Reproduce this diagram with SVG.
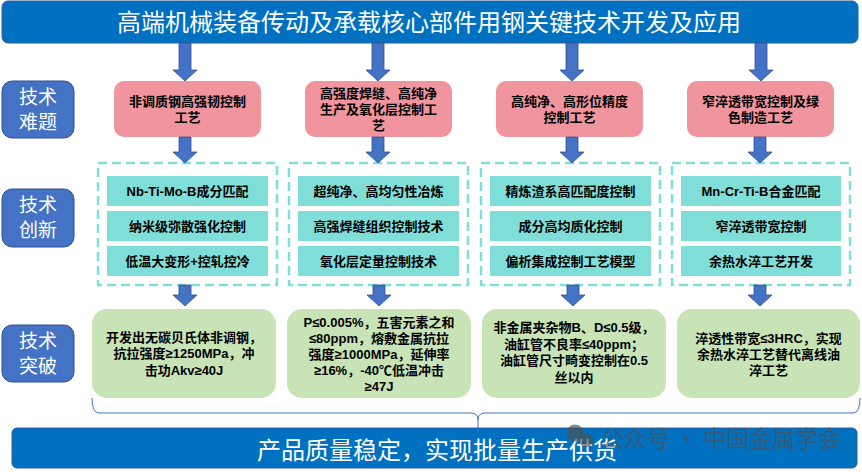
<svg xmlns="http://www.w3.org/2000/svg" width="862" height="472" viewBox="0 0 862 472">
<defs>
<style>
text{font-family:"Liberation Sans","Noto Sans CJK SC",sans-serif;text-anchor:middle;dominant-baseline:central}
.banner{fill:#0070C0;stroke:#2F5F9A;stroke-width:1}
.bt{fill:#fff;font-size:24px}
.lab{fill:#4472C4;stroke:#2F528F;stroke-width:1}
.lt{fill:#fff;font-size:19px}
.pink{fill:#F0959E}
.teal{fill:#7FDED7}
.dash{fill:none;stroke:#7FDED7;stroke-width:2.5;stroke-dasharray:9 5}
.green{fill:#C8E3B6}
.nt{fill:#000;font-size:13px;font-weight:bold}
.arr{fill:#4472C4;stroke:#2F528F;stroke-width:0.8}
.brace{fill:none;stroke:#4472C4;stroke-width:1}
.wm{fill:#505050;opacity:0.65;font-size:23px;font-family:"Noto Sans CJK SC",sans-serif}
</style>
</defs>

<g id="title">
<rect class="banner" x="2" y="1" width="856" height="42" rx="6"/>
<text class="bt" x="429" y="22">高端机械装备传动及承载核心部件用钢关键技术开发及应用</text>
</g>

<g id="label-difficulty">
<rect class="lab" x="2" y="81" width="72" height="57" rx="10"/>
<text class="lt" x="38" y="97">技术</text>
<text class="lt" x="38" y="122">难题</text>
</g>
<g id="label-innovation">
<rect class="lab" x="2" y="189" width="72" height="58" rx="10"/>
<text class="lt" x="38" y="205.5">技术</text>
<text class="lt" x="38" y="230.5">创新</text>
</g>
<g id="label-breakthrough">
<rect class="lab" x="2" y="325" width="72" height="57" rx="10"/>
<text class="lt" x="38" y="341">技术</text>
<text class="lt" x="38" y="366">突破</text>
</g>

<g id="prob1">
<rect class="pink" x="114" y="81" width="147" height="56" rx="10"/>
<text class="nt" x="187.5" y="101">非调质钢高强韧控制</text>
<text class="nt" x="187.5" y="117">工艺</text>
</g>
<g id="prob2">
<rect class="pink" x="305" y="81" width="147" height="56" rx="10"/>
<text class="nt" x="378.5" y="93">高强度焊缝、高纯净</text>
<text class="nt" x="378.5" y="109">生产及氧化层控制工</text>
<text class="nt" x="378.5" y="125">艺</text>
</g>
<g id="prob3">
<rect class="pink" x="496" y="81" width="147" height="56" rx="10"/>
<text class="nt" x="569.5" y="101">高纯净、高形位精度</text>
<text class="nt" x="569.5" y="117">控制工艺</text>
</g>
<g id="prob4">
<rect class="pink" x="687" y="81" width="147" height="56" rx="10"/>
<text class="nt" x="760.5" y="101">窄淬透带宽控制及绿</text>
<text class="nt" x="760.5" y="117">色制造工艺</text>
</g>

<g id="innov1">
<rect class="dash" x="98" y="163" width="179" height="122"/>
<rect class="teal" x="107" y="176" width="161" height="30"/>
<rect class="teal" x="107" y="211" width="161" height="30"/>
<rect class="teal" x="107" y="246" width="161" height="30"/>
<text class="nt" x="187.5" y="191">Nb-Ti-Mo-B成分匹配</text>
<text class="nt" x="187.5" y="226">纳米级弥散强化控制</text>
<text class="nt" x="187.5" y="261">低温大变形+控轧控冷</text>
</g>
<g id="innov2">
<rect class="dash" x="289" y="163" width="179" height="122"/>
<rect class="teal" x="298" y="176" width="161" height="30"/>
<rect class="teal" x="298" y="211" width="161" height="30"/>
<rect class="teal" x="298" y="246" width="161" height="30"/>
<text class="nt" x="378.5" y="191">超纯净、高均匀性冶炼</text>
<text class="nt" x="378.5" y="226">高强焊缝组织控制技术</text>
<text class="nt" x="378.5" y="261">氧化层定量控制技术</text>
</g>
<g id="innov3">
<rect class="dash" x="481" y="163" width="179" height="122"/>
<rect class="teal" x="490" y="176" width="161" height="30"/>
<rect class="teal" x="490" y="211" width="161" height="30"/>
<rect class="teal" x="490" y="246" width="161" height="30"/>
<text class="nt" x="570.5" y="191">精炼渣系高匹配度控制</text>
<text class="nt" x="570.5" y="226">成分高均质化控制</text>
<text class="nt" x="570.5" y="261">偏析集成控制工艺模型</text>
</g>
<g id="innov4">
<rect class="dash" x="672" y="163" width="178" height="122"/>
<rect class="teal" x="681" y="176" width="160" height="30"/>
<rect class="teal" x="681" y="211" width="160" height="30"/>
<rect class="teal" x="681" y="246" width="160" height="30"/>
<text class="nt" x="761" y="191">Mn-Cr-Ti-B合金匹配</text>
<text class="nt" x="761" y="226">窄淬透带宽控制</text>
<text class="nt" x="761" y="261">余热水淬工艺开发</text>
</g>

<g id="result1">
<rect class="green" x="92" y="309" width="184" height="89" rx="15"/>
<text class="nt" x="184" y="337">开发出无碳贝氏体非调钢，</text>
<text class="nt" x="184" y="353.5">抗拉强度≥1250MPa，冲</text>
<text class="nt" x="184" y="370">击功Akv≥40J</text>
</g>
<g id="result2">
<rect class="green" x="287" y="309" width="184" height="89" rx="15"/>
<text class="nt" x="379" y="322">P≤0.005%，五害元素之和</text>
<text class="nt" x="379" y="338">≤80ppm，熔敷金属抗拉</text>
<text class="nt" x="379" y="354">强度≥1000MPa，延伸率</text>
<text class="nt" x="379" y="370">≥16%，-40℃低温冲击</text>
<text class="nt" x="379" y="386">≥47J</text>
</g>
<g id="result3">
<rect class="green" x="482" y="309" width="184" height="89" rx="15"/>
<text class="nt" x="574" y="327.5">非金属夹杂物B、D≤0.5级，</text>
<text class="nt" x="574" y="344">油缸管不良率≤40ppm；</text>
<text class="nt" x="574" y="360.5">油缸管尺寸畸变控制在0.5</text>
<text class="nt" x="574" y="377">丝以内</text>
</g>
<g id="result4">
<rect class="green" x="677" y="309" width="183" height="89" rx="15"/>
<text class="nt" x="768.5" y="338">淬透性带宽≤3HRC，实现</text>
<text class="nt" x="768.5" y="354">余热水淬工艺替代离线油</text>
<text class="nt" x="768.5" y="370">淬工艺</text>
</g>

<g id="outcome">
<rect class="banner" x="12" y="428" width="845" height="40" rx="5"/>
<text class="bt" x="437" y="450">产品质量稳定，实现批量生产供货</text>
</g>

<g id="connectors">
<path class="arr" d="M179,43 h12 v27 h6 l-12,11 l-12,-11 h6 z"/>
<path class="arr" d="M372,43 h12 v27 h6 l-12,11 l-12,-11 h6 z"/>
<path class="arr" d="M566,43 h12 v27 h6 l-12,11 l-12,-11 h6 z"/>
<path class="arr" d="M755,43 h12 v27 h6 l-12,11 l-12,-11 h6 z"/>

<path class="arr" d="M179,137 h12 v15 h6 l-12,11 l-12,-11 h6 z"/>
<path class="arr" d="M372,137 h12 v15 h6 l-12,11 l-12,-11 h6 z"/>
<path class="arr" d="M566,137 h12 v15 h6 l-12,11 l-12,-11 h6 z"/>
<path class="arr" d="M754,137 h12 v15 h6 l-12,11 l-12,-11 h6 z"/>

<path class="arr" d="M179,285 h12 v10 h6 l-12,11 l-12,-11 h6 z"/>
<path class="arr" d="M373,285 h12 v10 h6 l-12,11 l-12,-11 h6 z"/>
<path class="arr" d="M567,285 h12 v10 h6 l-12,11 l-12,-11 h6 z"/>
<path class="arr" d="M754,285 h12 v10 h6 l-12,11 l-12,-11 h6 z"/>

<path class="brace" d="M92,398 Q92,413 99,413 H471 Q478,413 478,420 V432 M478,420 Q478,413 485,413 H853 Q860,413 860,398"/>
</g>

<g id="watermark">
<circle cx="575" cy="433" r="8.5" fill="#505050" opacity="0.65"/>
<circle cx="586" cy="440" r="7" fill="#505050" opacity="0.65"/>
<text class="wm" x="721" y="437">公众号 · 中国金属学会</text>
</g>
</svg>
